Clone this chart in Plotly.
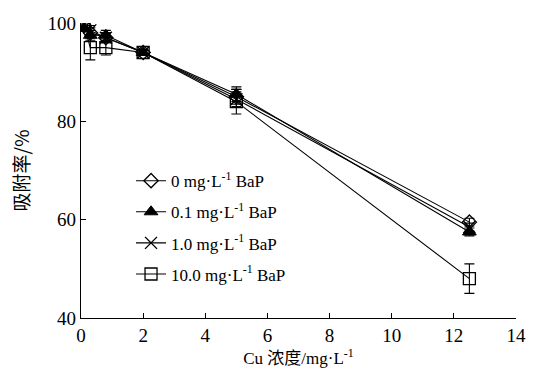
import plotly.graph_objects as go

cu = [0.1, 0.3, 0.8, 2.0, 5.0, 12.5]
names = ["0 mg·L<sup>-1</sup> BaP", "0.1 mg·L<sup>-1</sup> BaP",
         "1.0 mg·L<sup>-1</sup> BaP", "10.0 mg·L<sup>-1</sup> BaP"]
bap0 = [99.5, 98.0, 97.0, 94.0, 85.0, 59.5]
bap01 = [99.0, 97.5, 97.5, 94.0, 85.5, 57.5]
bap1 = [99.0, 98.5, 97.0, 94.0, 84.5, 58.5]
bap10 = [99.5, 95.0, 95.0, 94.0, 84.0, 48.0]
err0 = [0.5, 1.0, 1.0, 0.5, 1.5, 0.8]
err01 = [0.5, 1.0, 1.0, 0.5, 1.5, 0.8]
err1 = [0.5, 1.0, 1.0, 0.5, 1.5, 0.8]
err10 = [1.0, 2.5, 1.5, 0.5, 2.5, 3.0]

series = [
    (names[0], bap0, err0, dict(symbol="diamond-open", size=11, color="black", line=dict(width=1.3, color="black"))),
    (names[1], bap01, err01, dict(symbol="triangle-up", size=12, color="black", line=dict(width=1, color="black"))),
    (names[2], bap1, err1, dict(symbol="x-thin-open", size=12, color="black", line=dict(width=1.4, color="black"))),
    (names[3], bap10, err10, dict(symbol="square-open", size=12, color="black", line=dict(width=1.3, color="black"))),
]

fig = go.Figure()
for i, (name, ys, es, mk) in enumerate(series):
    fig.add_trace(go.Scatter(
        x=cu, y=ys, name=name, mode="lines+markers", legendgroup=f"g{i}",
        line=dict(color="black", width=1.1), marker=mk,
        error_y=dict(type="data", array=es, visible=True, color="black", thickness=1.1, width=5),
    ))

serif = "Liberation Serif"
fig.update_layout(
    width=538, height=372,
    margin=dict(l=81, r=14, t=23, b=49),
    paper_bgcolor="white", plot_bgcolor="white",
    font=dict(family=serif, size=16, color="black"),
    showlegend=True,
    legend=dict(x=0.115, y=0.525, xanchor="left", yanchor="top",
                bgcolor="rgba(0,0,0,0)", font=dict(family=serif, size=17),
                itemwidth=30, tracegroupgap=6),
    xaxis=dict(range=[0, 14], tickvals=[0, 2, 4, 6, 8, 10, 12, 14],
               ticks="inside", ticklen=5, tickcolor="black", tickwidth=1,
               showline=True, linecolor="black", linewidth=1.2, showgrid=False, zeroline=False,
               tickfont=dict(family=serif, size=19),
               title=dict(text="Cu 浓度/mg·L<sup>-1</sup>", standoff=2,
                          font=dict(family="Liberation Serif, Noto Sans CJK SC", size=17))),
    yaxis=dict(range=[40, 100], tickvals=[40, 60, 80, 100],
               ticks="inside", ticklen=5, tickcolor="black", tickwidth=1,
               showline=True, linecolor="black", linewidth=1.2, showgrid=False, zeroline=False,
               tickfont=dict(family=serif, size=19),
               title=dict(text="吸附率/%", standoff=12,
                          font=dict(family="Noto Sans CJK SC", size=19))),
)
fig.write_html("out.html")
